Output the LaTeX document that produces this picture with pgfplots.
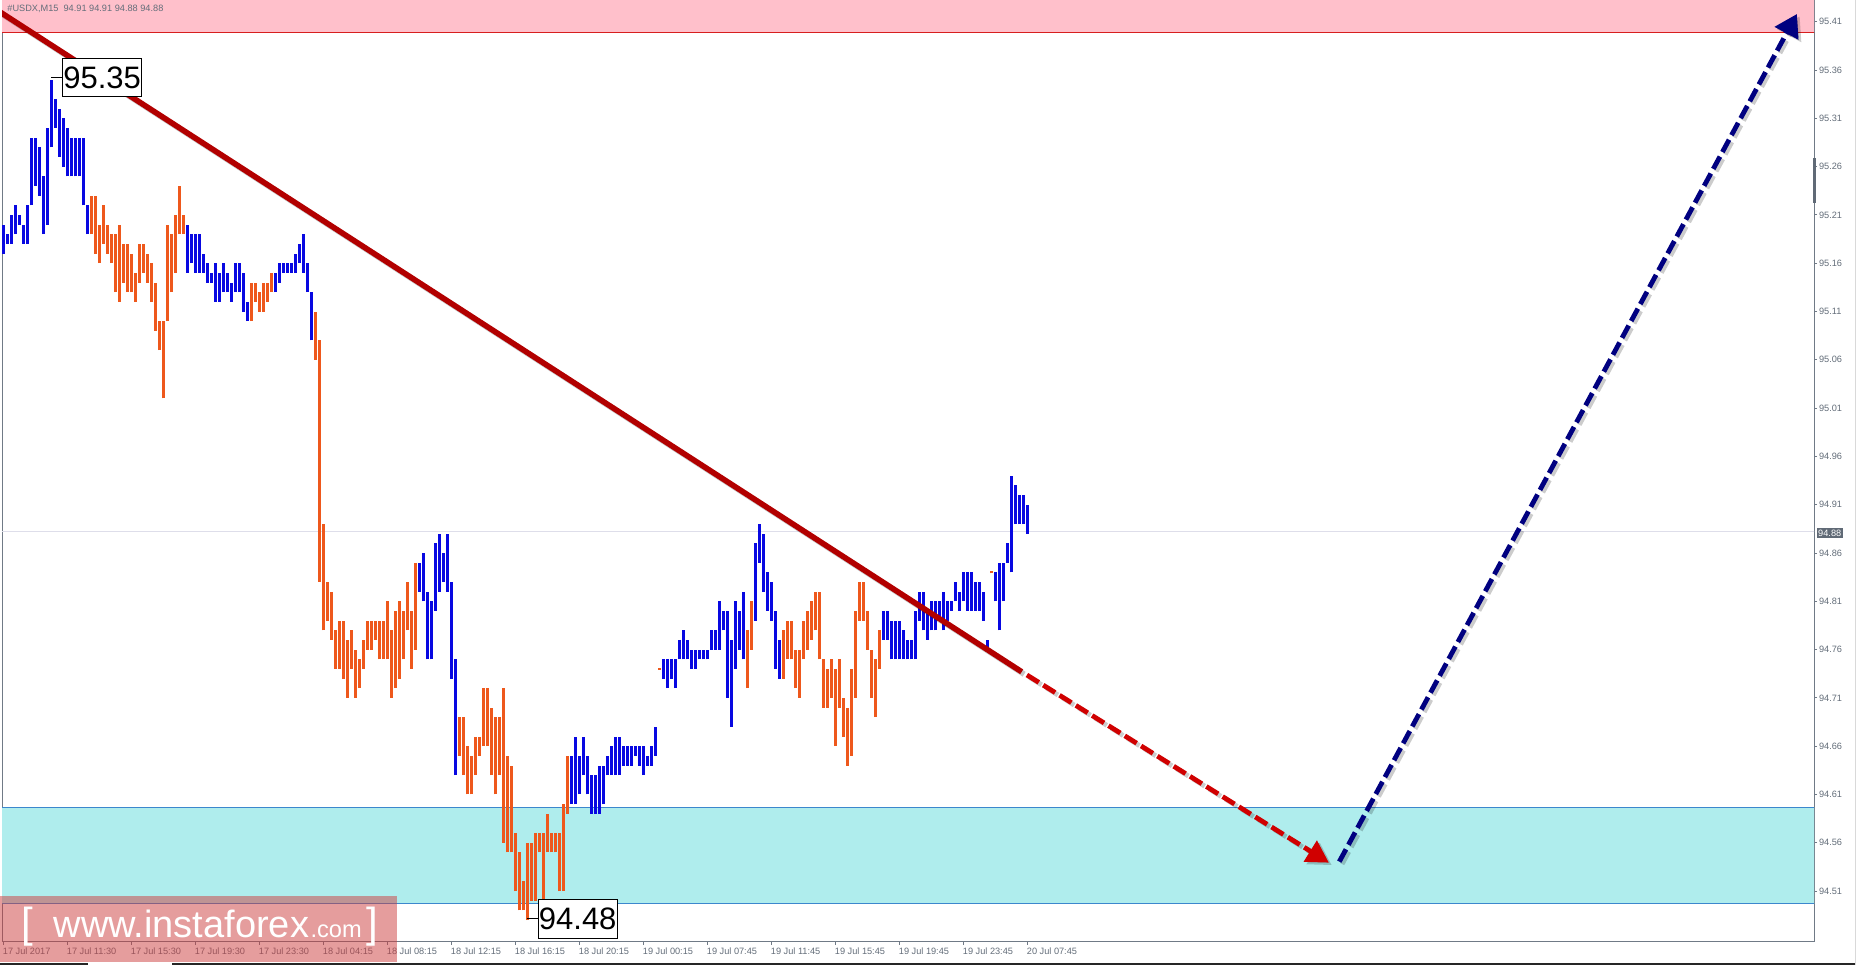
\documentclass[border=0pt]{standalone}
\usepackage{fontspec}
\setmainfont{Liberation Sans}
\usepackage{pgfplots}
\pgfplotsset{compat=1.18}
\usepackage{pgfplotstable}
\usetikzlibrary{arrows.meta}

\definecolor{barblue}{RGB}{8,8,225}
\definecolor{barorange}{RGB}{238,88,28}
\definecolor{pinkzone}{RGB}{255,192,203}
\definecolor{pinkedge}{RGB}{215,30,30}
\definecolor{cyanzone}{RGB}{175,237,237}
\definecolor{cyanedge}{RGB}{60,135,205}
\definecolor{trendred}{RGB}{178,0,0}
\definecolor{dashred}{RGB}{208,0,0}
\definecolor{navyarrow}{RGB}{0,0,128}
\definecolor{axgray}{RGB}{112,122,134}
\definecolor{lblgray}{RGB}{100,110,122}
\definecolor{hlgray}{RGB}{96,106,118}
\definecolor{pricegray}{RGB}{222,222,234}
\definecolor{wmred}{RGB}{205,60,60}

\pgfplotstableread{
i hi lo
0 95.20 95.17
1 95.19 95.18
2 95.21 95.18
3 95.22 95.19
4 95.21 95.20
5 95.20 95.18
6 95.22 95.18
7 95.29 95.22
8 95.29 95.24
9 95.28 95.23
10 95.25 95.19
11 95.30 95.20
12 95.35 95.28
13 95.33 95.30
14 95.32 95.27
15 95.31 95.26
16 95.30 95.25
17 95.29 95.25
18 95.29 95.25
19 95.29 95.25
20 95.29 95.22
21 95.22 95.19
46 95.20 95.15
47 95.19 95.16
48 95.19 95.15
49 95.19 95.15
50 95.17 95.15
51 95.16 95.14
52 95.15 95.14
53 95.16 95.12
54 95.15 95.12
55 95.16 95.13
56 95.15 95.13
57 95.14 95.12
58 95.16 95.13
59 95.16 95.13
60 95.15 95.11
61 95.12 95.10
68 95.15 95.13
69 95.16 95.14
70 95.16 95.15
71 95.16 95.15
72 95.16 95.15
73 95.17 95.15
74 95.18 95.16
75 95.19 95.15
76 95.16 95.13
77 95.13 95.08
104 94.85 94.82
105 94.86 94.81
106 94.82 94.75
107 94.81 94.75
108 94.87 94.80
109 94.88 94.82
110 94.86 94.83
111 94.88 94.82
112 94.83 94.73
113 94.75 94.63
142 94.65 94.60
143 94.67 94.60
144 94.65 94.61
145 94.67 94.63
146 94.65 94.61
147 94.63 94.59
148 94.63 94.59
149 94.64 94.59
150 94.64 94.60
151 94.65 94.63
152 94.66 94.63
153 94.67 94.63
154 94.67 94.63
155 94.66 94.64
156 94.66 94.64
157 94.66 94.64
158 94.66 94.65
159 94.66 94.64
160 94.66 94.63
161 94.65 94.64
162 94.66 94.64
163 94.68 94.65
165 94.75 94.73
166 94.75 94.72
167 94.75 94.73
168 94.75 94.72
169 94.77 94.75
170 94.78 94.75
171 94.77 94.75
172 94.76 94.74
173 94.76 94.74
174 94.76 94.75
175 94.76 94.75
176 94.76 94.75
177 94.78 94.76
178 94.78 94.76
179 94.81 94.76
180 94.80 94.78
181 94.80 94.71
182 94.77 94.68
183 94.81 94.74
184 94.80 94.76
185 94.82 94.75
188 94.87 94.79
189 94.89 94.85
190 94.88 94.82
191 94.84 94.80
192 94.83 94.79
193 94.80 94.74
194 94.77 94.73
220 94.80 94.77
221 94.80 94.77
222 94.79 94.75
223 94.79 94.75
224 94.79 94.75
225 94.78 94.75
226 94.77 94.75
227 94.77 94.75
228 94.80 94.75
229 94.82 94.79
230 94.82 94.78
231 94.80 94.77
232 94.81 94.78
233 94.81 94.78
234 94.81 94.79
235 94.82 94.78
236 94.81 94.79
237 94.81 94.80
238 94.83 94.81
239 94.82 94.80
240 94.84 94.81
241 94.84 94.80
242 94.84 94.80
243 94.83 94.80
244 94.83 94.80
245 94.82 94.79
246 94.77 94.76
248 94.84 94.81
249 94.85 94.78
250 94.85 94.81
251 94.87 94.85
252 94.94 94.84
253 94.93 94.89
254 94.92 94.89
255 94.92 94.89
256 94.91 94.88
}\bluebars

\pgfplotstableread{
i hi lo
22 95.23 95.19
23 95.23 95.17
24 95.20 95.16
25 95.22 95.18
26 95.20 95.17
27 95.19 95.16
28 95.19 95.13
29 95.20 95.12
30 95.18 95.14
31 95.18 95.13
32 95.17 95.13
33 95.15 95.12
34 95.18 95.14
35 95.18 95.15
36 95.17 95.14
37 95.16 95.12
38 95.14 95.09
39 95.10 95.07
40 95.10 95.02
41 95.20 95.10
42 95.19 95.13
43 95.21 95.15
44 95.24 95.19
45 95.21 95.19
62 95.14 95.10
63 95.14 95.12
64 95.13 95.11
65 95.14 95.11
66 95.14 95.12
67 95.15 95.13
78 95.11 95.06
79 95.08 94.83
80 94.89 94.78
81 94.83 94.79
82 94.82 94.77
83 94.78 94.74
84 94.79 94.74
85 94.79 94.73
86 94.77 94.71
87 94.78 94.74
88 94.76 94.71
89 94.75 94.72
90 94.77 94.74
91 94.79 94.76
92 94.79 94.76
93 94.79 94.77
94 94.79 94.75
95 94.79 94.75
96 94.81 94.75
97 94.78 94.71
98 94.80 94.72
99 94.81 94.73
100 94.80 94.75
101 94.83 94.78
102 94.80 94.74
103 94.85 94.76
114 94.69 94.65
115 94.69 94.63
116 94.66 94.61
117 94.65 94.61
118 94.67 94.63
119 94.67 94.65
120 94.72 94.66
121 94.72 94.66
122 94.70 94.63
123 94.69 94.61
124 94.69 94.63
125 94.72 94.56
126 94.65 94.55
127 94.64 94.55
128 94.57 94.51
129 94.55 94.49
130 94.52 94.49
131 94.56 94.48
132 94.56 94.50
133 94.57 94.50
134 94.57 94.55
135 94.57 94.50
136 94.59 94.55
137 94.57 94.55
138 94.57 94.55
139 94.57 94.51
140 94.60 94.51
141 94.65 94.59
164 94.741 94.739
186 94.78 94.72
187 94.81 94.76
195 94.78 94.73
196 94.79 94.75
197 94.79 94.75
198 94.76 94.72
199 94.76 94.71
200 94.79 94.75
201 94.80 94.76
202 94.81 94.77
203 94.82 94.78
204 94.82 94.75
205 94.75 94.70
206 94.74 94.70
207 94.75 94.71
208 94.74 94.66
209 94.75 94.70
210 94.71 94.67
211 94.70 94.64
212 94.74 94.65
213 94.80 94.71
214 94.83 94.79
215 94.83 94.79
216 94.80 94.76
217 94.76 94.71
218 94.75 94.69
219 94.78 94.74
247 94.841 94.839
}\orangebars

\begin{document}
\begin{tikzpicture}
\useasboundingbox (0,0) rectangle (928pt,482.5pt);
\fill[white] (0,0) rectangle (928pt,482.5pt);
\begin{axis}[
  at={(1pt,482.5pt)}, anchor=north west,
  scale only axis, width=906pt, height=471pt,
  xmin=-0.325, xmax=452.675, ymin=94.4573, ymax=95.4325,
  axis line style={axgray, line width=0.5pt},
  tick style={axgray, line width=0.5pt},
  tick align=outside, major tick length=1.5pt,
  xtick pos=bottom, ytick pos=right, yticklabel pos=right,
  scaled y ticks=false,
  xtick={0,16,32,48,64,80,96,112,128,144,160,176,192,208,224,240,256},
  xticklabels={17 Jul 2017,17 Jul 11:30,17 Jul 15:30,17 Jul 19:30,17 Jul 23:30,18 Jul 04:15,18 Jul 08:15,18 Jul 12:15,18 Jul 16:15,18 Jul 20:15,19 Jul 00:15,19 Jul 07:45,19 Jul 11:45,19 Jul 15:45,19 Jul 19:45,19 Jul 23:45,20 Jul 07:45},
  xticklabel style={font=\fontsize{4.6}{5}\selectfont, text=lblgray, anchor=north west, inner sep=0pt, xshift=-0.4pt, yshift=-1.2pt},
  ytick={94.51,94.56,94.61,94.66,94.71,94.76,94.81,94.86,94.91,94.96,95.01,95.06,95.11,95.16,95.21,95.26,95.31,95.36,95.41},
  yticklabel style={font=\fontsize{4.6}{5}\selectfont, text=lblgray, anchor=west, inner sep=0pt, xshift=0.8pt,
    /pgf/number format/.cd, fixed, fixed zerofill, precision=2, assume math mode=true},
]
% zones
\addplot[fill=pinkzone, draw=none, forget plot] coordinates {(-2,95.399) (455,95.399) (455,95.45) (-2,95.45)} -- cycle;
\addplot[pinkedge, line width=0.5pt, forget plot] coordinates {(-2,95.399) (455,95.399)};
\addplot[fill=cyanzone, draw=none, forget plot] coordinates {(-2,94.497) (455,94.497) (455,94.597) (-2,94.597)} -- cycle;
\addplot[cyanedge, line width=0.5pt, forget plot] coordinates {(-2,94.597) (455,94.597)};
\addplot[cyanedge, line width=0.5pt, forget plot] coordinates {(-2,94.497) (455,94.497)};
% current price line
\addplot[pricegray, line width=0.5pt, forget plot] coordinates {(-2,94.882) (455,94.882)};
% bars
\addplot[barblue, line width=1.3pt, quiver={u=0, v=\thisrow{hi}-\thisrow{lo}}, forget plot] table[x=i, y=lo] {\bluebars};
\addplot[barorange, line width=1.3pt, quiver={u=0, v=\thisrow{hi}-\thisrow{lo}}, forget plot] table[x=i, y=lo] {\orangebars};
% trend line with shadow
\addplot[black, opacity=0.22, line width=2.8pt, forget plot] coordinates {(-0.2,95.4176) (255.2,94.7345)};
\addplot[trendred, line width=2.8pt, forget plot] coordinates {(-0.825,95.4201) (254.6,94.737)};
% dashed arrows with shadow
\addplot[black, opacity=0.2, line width=2.4pt, dash pattern=on 7pt off 2.6pt, -{Triangle[length=11pt,width=12pt]}, forget plot] coordinates {(256.6,94.7312) (332.1,94.5369)};
\addplot[dashred, line width=2.4pt, dash pattern=on 7pt off 2.6pt, -{Triangle[length=11pt,width=12pt]}, forget plot] coordinates {(255.9,94.7337) (331.4,94.5394)};
\addplot[black, opacity=0.2, line width=2.4pt, dash pattern=on 7pt off 2.6pt, -{Triangle[length=11pt,width=13pt]}, forget plot] coordinates {(334.7,94.538) (449.1,95.4155)};
\addplot[navyarrow, line width=2.4pt, dash pattern=on 7pt off 2.6pt, -{Triangle[length=11pt,width=13pt]}, forget plot] coordinates {(334.0,94.5405) (448.4,95.418)};
% price labels
\draw[black, line width=0.5pt] (axis cs:12,95.3525) -- (axis cs:14.85,95.3525);
\node[draw=black, line width=0.5pt, fill=white, inner sep=0pt, minimum width=39.5pt, minimum height=19.2pt, font=\fontsize{15.5}{15.5}\selectfont] at (axis cs:24.7,95.3522) {95.35};
\draw[black, line width=0.5pt] (axis cs:130.85,94.482) -- (axis cs:133.75,94.482);
\node[draw=black, line width=0.5pt, fill=white, inner sep=0pt, minimum width=39.5pt, minimum height=19.2pt, font=\fontsize{15.5}{15.5}\selectfont] at (axis cs:143.6,94.481) {94.48};
\end{axis}
% header
\node[anchor=west, text=lblgray, font=\fontsize{4.6}{5}\selectfont, inner sep=0pt] at (3.5pt,478.3pt) {\#USDX,M15\ \ 94.91 94.91 94.88 94.88};
% current price tag
\node[anchor=west, fill=hlgray, text=white, inner sep=0.7pt, font=\fontsize{4.6}{5}\selectfont] at (908.2pt,216pt) {94.88};
% scroll marker on axis
\fill[hlgray] (906.3pt,381pt) rectangle (907.9pt,403.5pt);
% window bottom edge
\fill[black!85] (0,0) rectangle (44pt,0.9pt);
\fill[black!85] (86pt,0) rectangle (928pt,0.9pt);
\draw[black!15, line width=0.5pt] (927.75pt,0) -- (927.75pt,482.5pt);
% watermark
\fill[wmred, opacity=0.5] (0,1.5pt) rectangle (198.3pt,34.5pt);
\node[anchor=base west, text=white, inner sep=0pt, font=\fontsize{21}{21}\selectfont] at (10.6pt,13.75pt) {[};
\node[anchor=base west, text=white, inner sep=0pt, font=\fontsize{19}{19}\selectfont] at (26.6pt,13.75pt) {www.instaforex};
\node[anchor=base west, text=white, inner sep=0pt, font=\fontsize{11.8}{12}\selectfont] at (155.1pt,13.75pt) {.com};
\node[anchor=base west, text=white, inner sep=0pt, font=\fontsize{21}{21}\selectfont] at (183pt,13.75pt) {]};
\end{tikzpicture}
\end{document}
